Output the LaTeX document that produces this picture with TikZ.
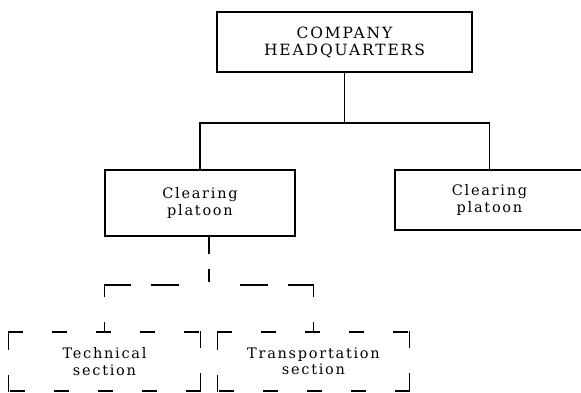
\documentclass[tikz,border=0pt]{standalone}
\usepackage{fontspec}
\setmainfont{DejaVu Serif}[LetterSpace=12]
\usetikzlibrary{positioning}

\begin{document}
\begin{tikzpicture}[x=1pt,y=-1pt,
  unit/.style={draw,line width=2pt,align=center,inner sep=0pt,font=\fontsize{14.5}{16.5}\selectfont},
  subunit/.style={unit,draw=none},
  hside/.style={line width=1.8pt,line cap=rect,dash pattern=on 14pt off 30pt},
  vside/.style={line width=1.8pt,line cap=rect,dash pattern=on 15pt off 27pt},
  link/.style={line width=1.6pt},
  dlink/.style={line width=1.6pt,dash pattern=on 10pt off 25pt on 38pt off 20pt on 28pt off 40pt},
  dstem/.style={line width=1.6pt,dash pattern=on 17pt off 15pt on 13pt off 20pt}]
\useasboundingbox (0,0) rectangle (581,392);
\clip (0,0) rectangle (581,392);
\node[unit,minimum width=255pt,minimum height=60pt,font=\fontsize{15.5}{17}\selectfont] (hq) at (344.5,42) {COMPANY\\HEADQUARTERS};
\node[unit,minimum width=190pt,minimum height=66pt] (platA) at (200,203) {Clearing\\platoon};
\node[unit,minimum width=190pt,minimum height=60pt] (platB) at (489.5,200) {Clearing\\platoon};
\node[subunit,minimum width=190pt,minimum height=57pt] (techsec) at (104.5,361.5) {Technical\\section};
\node[subunit,minimum width=190pt,minimum height=57pt] (transsec) at (313.5,361.5) {Transportation\\section};

% dashed outlines of the sections
\foreach \sec in {techsec,transsec}{
  \draw[hside] (\sec.north west) -- (\sec.north east);
  \draw[vside] (\sec.north east) -- (\sec.south east);
  \draw[hside] (\sec.south east) -- (\sec.south west);
  \draw[vside] (\sec.south west) -- (\sec.north west);
}

\coordinate (bus) at (344.5,123);
\coordinate (fork) at (209,285);
\draw[link] (hq.south) -- (bus);
\draw[link] (platA.north) |- (bus) -| (platB.north);
\draw[dstem] (platA.south -| fork) -- (fork);
\draw[dlink] (techsec.north) |- (fork);
\draw[dlink] (transsec.north) |- (fork);
\end{tikzpicture}
\end{document}
